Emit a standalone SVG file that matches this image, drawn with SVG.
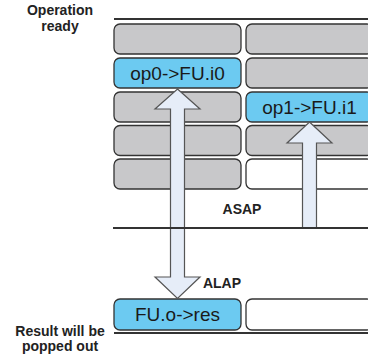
<svg xmlns="http://www.w3.org/2000/svg" width="368" height="354" viewBox="0 0 368 354">
<style>
.cell{stroke:#333;stroke-width:1.3}
.g{fill:#c8c8ca}
.b{fill:#6ccaf1}
.w{fill:#fff}
.lbl{font-family:"Liberation Sans",Arial,sans-serif;font-size:19px;fill:#1a1a1a;text-anchor:middle}
.note{font-family:"Liberation Sans",Arial,sans-serif;font-size:14px;font-weight:bold;fill:#222;text-anchor:middle}
.arr{fill:#e6edf8;stroke:#555;stroke-width:1.2}
.rule{stroke:#333;stroke-width:2}
</style>
<rect width="368" height="354" fill="#fff"/>
<g id="row1">
<rect class="cell g" x="114" y="24" width="127" height="30" rx="6"/>
<rect class="cell g" x="246" y="24" width="127" height="30" rx="6"/>
</g>
<g id="row2">
<rect class="cell b" x="114" y="58" width="127" height="30" rx="6"/>
<text class="lbl" x="177.5" y="80">op0-&gt;FU.i0</text>
<rect class="cell g" x="246" y="58" width="127" height="30" rx="6"/>
</g>
<g id="row3">
<rect class="cell g" x="114" y="92" width="127" height="30" rx="6"/>
<rect class="cell b" x="246" y="92" width="127" height="30" rx="6"/>
<text class="lbl" x="309.5" y="114">op1-&gt;FU.i1</text>
</g>
<g id="row4">
<rect class="cell g" x="114" y="125.5" width="127" height="30" rx="6"/>
<rect class="cell g" x="246" y="125.5" width="127" height="30" rx="6"/>
</g>
<g id="row5">
<rect class="cell g" x="114" y="159" width="127" height="30" rx="6"/>
<rect class="cell w" x="246" y="159" width="127" height="30" rx="6"/>
</g>
<g id="row-result">
<rect class="cell b" x="114" y="299" width="127" height="31" rx="6"/>
<text class="lbl" x="177.5" y="321">FU.o-&gt;res</text>
<rect class="cell w" x="246" y="299" width="127" height="31" rx="6"/>
</g>
<g id="connectors">
<path id="alap-asap-arrow" class="arr" d="M177.5,89 L200,109 L184.5,109 L184.5,277 L200,277 L177.5,298.5 L155,277 L170.5,277 L170.5,109 L155,109 Z"/>
<path id="asap-arrow" class="arr" d="M309.5,122 L332,143 L316.5,143 L316.5,228 L302.5,228 L302.5,143 L287,143 Z"/>
</g>
<g id="rules">
<line class="rule" x1="114" y1="19" x2="368" y2="19"/>
<line class="rule" x1="113" y1="228" x2="368" y2="228"/>
<line class="rule" x1="114" y1="333" x2="368" y2="333"/>
</g>
<g id="labels">
<text class="note" x="60" y="15">Operation</text>
<text class="note" x="60" y="30.5">ready</text>
<text class="note" x="242" y="214">ASAP</text>
<text class="note" x="222" y="287.5">ALAP</text>
<text class="note" x="60" y="335.5">Result will be</text>
<text class="note" x="60" y="351">popped out</text>
</g>
</svg>
